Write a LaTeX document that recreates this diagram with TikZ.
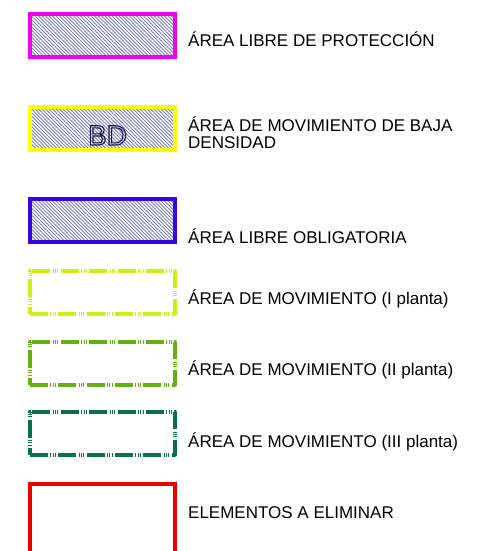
\documentclass[tikz,border=0pt]{standalone}
\usepackage{fontspec}
\setmainfont{Liberation Sans}
\definecolor{hatchcol}{RGB}{125,130,180}
\definecolor{cmag}{RGB}{240,0,240}
\definecolor{cyel}{RGB}{255,255,0}
\definecolor{cblue}{RGB}{60,0,230}
\definecolor{clime}{RGB}{200,242,20}
\definecolor{cgreen}{RGB}{100,175,20}
\definecolor{cteal}{RGB}{10,110,80}
\definecolor{cred}{RGB}{235,0,0}
\definecolor{cnavy}{RGB}{25,25,80}
\tikzset{
  legbox/.style={draw, line width=4pt, minimum width=145pt, minimum height=43pt, inner sep=0pt, anchor=north west},
  hatch/.style={path picture={\foreach \k in {-60,-56.5,...,200}{\draw[hatchcol, line width=0.75pt] ([xshift=\k pt]path picture bounding box.north west) -- ++(60pt,-60pt);}}},
  mvdash/.style={line width=3.5pt, line join=round, dash pattern=on 18pt off 2.5pt on 0.8pt off 1.5pt on 0.8pt off 1.5pt on 0.8pt off 2.5pt},
  leglabel/.style={anchor=base west, font=\fontsize{17}{18}\selectfont, inner sep=0pt, align=left}
}
\begin{document}
\begin{tikzpicture}[x=1pt,y=-1pt]
\useasboundingbox (0,0) rectangle (480,551);
\fill[white] (0,0) rectangle (480,551);
\clip (0,0) rectangle (480,551);
\node[legbox, hatch, cmag] (b1) at (28,12) {};
\node[legbox, hatch, cyel] (b2) at (28,105) {};
\node[anchor=base, text=cnavy, font=\fontsize{28}{28}\selectfont, inner sep=0pt] (bd) at (107.5,145) {\special{pdf:literal direct 1 Tr 1.1 w}BD\special{pdf:literal direct 0 Tr}};
\node[legbox, hatch, cblue] (b3) at (28,197) {};
\node[legbox, mvdash, clime] (b4) at (28,269) {};
\node[legbox, mvdash, cgreen] (b5) at (28,340) {};
\node[legbox, mvdash, cteal] (b6) at (28,410) {};
\node[legbox, cred, minimum height=90pt] (b7) at (28,482) {};
\node[leglabel] (t1) at (188,47) {ÁREA LIBRE DE PROTECCIÓN};
\node[leglabel] (t2) at (188,148) {ÁREA DE MOVIMIENTO DE BAJA\\[-1.5pt]DENSIDAD};
\node[leglabel] (t3) at (188,243) {ÁREA LIBRE OBLIGATORIA};
\node[leglabel] (t4) at (188,304) {ÁREA DE MOVIMIENTO (I planta)};
\node[leglabel] (t5) at (188,375) {ÁREA DE MOVIMIENTO (II planta)};
\node[leglabel] (t6) at (188,447) {ÁREA DE MOVIMIENTO (III planta)};
\node[leglabel] (t7) at (188,518) {ELEMENTOS A ELIMINAR};
\end{tikzpicture}
\end{document}
